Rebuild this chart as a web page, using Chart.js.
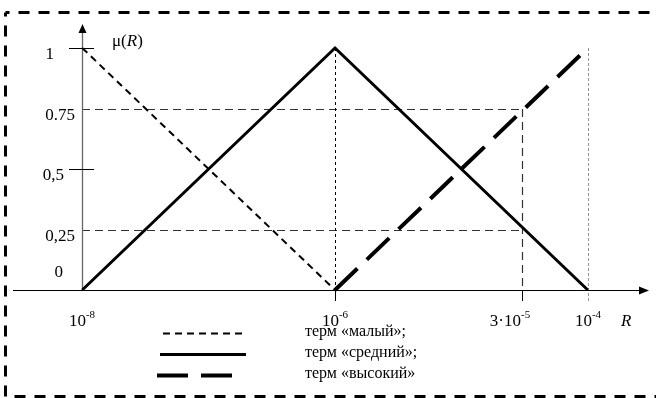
<!DOCTYPE html>
<html>
<head>
<meta charset="utf-8">
<script src="https://cdn.jsdelivr.net/npm/chart.js@4.4.1/dist/chart.umd.min.js"></script>
<style>
  html, body { margin: 0; padding: 0; background: #fff; }
  #wrap { width: 656px; height: 398px; position: relative; }
</style>
</head>
<body>
<div id="wrap"><canvas id="c"></canvas></div>
<script>
// Membership functions of the linguistic variable R (log scale)
const seriesNames = ['терм «малый»;', 'терм «средний»;', 'терм «высокий»'];
const termSmallR = [1e-8, 1e-6];
const termSmallMu = [1, 0];
const termMediumR = [1e-8, 1e-6, 1e-4];
const termMediumMu = [0, 1, 0];
const termHighR = [1e-6, 1e-4];
const termHighMu = [0, 1];

const xTickValues = [1e-8, 1e-6, 3e-5, 1e-4];
const xTickBase = ['10', '10', '3·10', '10'];
const xTickExp = ['-8', '-6', '-5', '-4'];
const yTickValues = [1, 0.75, 0.5, 0.25, 0];
const yTickLabels = ['1', '0.75', '0,5', '0,25', '0'];
// membership levels marked with dashed guides, and the R value they meet at
const guideLevels = [0.75, 0.25];
const guideR = 3e-5;

const toPoints = (xs, ys) => xs.map((x, i) => ({ x, y: ys[i] }));

const SERIF = '"Liberation Serif", "DejaVu Serif", serif';

// line styles for the three terms (shared by plot and legend)
const termStyles = [
  { width: 2, dash: [7, 5] },
  { width: 3, dash: [] },
  { width: 4, dash: [31, 13] }
];

const decor = {
  id: 'decor',
  beforeDatasetsDraw(chart) {
    const ctx = chart.ctx;
    const xs = chart.scales.x, ys = chart.scales.y;
    const X = v => Math.round(xs.getPixelForValue(v));
    const Y = v => Math.round(ys.getPixelForValue(v));
    const x0 = X(xTickValues[0]);
    const y0 = Y(0);
    ctx.save();

    // horizontal guides at 0.75 and 0.25
    ctx.strokeStyle = '#333';
    ctx.lineWidth = 1.2;
    ctx.setLineDash([8, 5]);
    guideLevels.forEach(l => {
      ctx.beginPath();
      ctx.moveTo(x0, Y(l) + 0.5);
      ctx.lineTo(X(guideR), Y(l) + 0.5);
      ctx.stroke();
    });
    // vertical guide at 3·10^-5
    ctx.beginPath();
    ctx.moveTo(X(guideR) + 0.5, Y(guideLevels[0]));
    ctx.lineTo(X(guideR) + 0.5, y0);
    ctx.stroke();

    // vertical at the peak 10^-6
    ctx.strokeStyle = '#000';
    ctx.lineWidth = 1;
    ctx.setLineDash([3, 3]);
    ctx.beginPath();
    ctx.moveTo(X(1e-6) + 0.5, Y(1));
    ctx.lineTo(X(1e-6) + 0.5, y0);
    ctx.stroke();

    // dotted vertical at 10^-4
    ctx.strokeStyle = '#999';
    ctx.setLineDash([3, 2]);
    ctx.beginPath();
    ctx.moveTo(X(1e-4) + 0.5, Y(1));
    ctx.lineTo(X(1e-4) + 0.5, y0 + 11);
    ctx.stroke();

    // tick marks below the R axis
    ctx.setLineDash([]);
    ctx.strokeStyle = '#000';
    [1e-6, guideR].forEach(v => {
      ctx.beginPath();
      ctx.moveTo(X(v) + 0.5, y0);
      ctx.lineTo(X(v) + 0.5, y0 + 11);
      ctx.stroke();
    });

    // μ axis
    ctx.strokeStyle = '#666';
    ctx.lineWidth = 1.3;
    ctx.beginPath();
    ctx.moveTo(x0 + 0.5, y0);
    ctx.lineTo(x0 + 0.5, 30);
    ctx.stroke();
    ctx.fillStyle = '#000';
    ctx.beginPath();
    ctx.moveTo(x0 + 0.5, 24);
    ctx.lineTo(x0 - 3.5, 33);
    ctx.lineTo(x0 + 4.5, 33);
    ctx.closePath();
    ctx.fill();

    // tick marks crossing the μ axis
    ctx.strokeStyle = '#000';
    ctx.lineWidth = 1;
    [1, 0.5].forEach(v => {
      ctx.beginPath();
      ctx.moveTo(x0 - 13, Y(v) + 0.5);
      ctx.lineTo(x0 + 12, Y(v) + 0.5);
      ctx.stroke();
    });

    // R axis with arrow
    ctx.beginPath();
    ctx.moveTo(13, y0 + 0.5);
    ctx.lineTo(641, y0 + 0.5);
    ctx.stroke();
    ctx.beginPath();
    ctx.moveTo(649, y0 + 0.5);
    ctx.lineTo(639, y0 - 3.5);
    ctx.lineTo(639, y0 + 4.5);
    ctx.closePath();
    ctx.fill();

    ctx.restore();
  },
  afterDraw(chart) {
    const ctx = chart.ctx;
    const xs = chart.scales.x, ys = chart.scales.y;
    const X = v => Math.round(xs.getPixelForValue(v));
    const Y = v => Math.round(ys.getPixelForValue(v));
    const x0 = X(xTickValues[0]);
    const y0 = Y(0);
    ctx.save();
    ctx.fillStyle = '#000';
    ctx.textBaseline = 'alphabetic';

    // μ tick labels
    ctx.font = '17px ' + SERIF;
    ctx.textAlign = 'right';
    const yLabelRight = { '1': x0 - 28, '0.75': x0 - 7, '0,5': x0 - 18, '0,25': x0 - 7, '0': x0 - 19 };
    yTickValues.forEach((v, i) => {
      const t = yTickLabels[i];
      const by = v === 0 ? y0 - 13 : Y(v) + 11;
      ctx.fillText(t, yLabelRight[t], by);
    });

    // axis title μ(R)
    ctx.textAlign = 'left';
    let tx = x0 + 30;
    ctx.font = '17px ' + SERIF;
    ctx.fillText('μ(', tx, 46);
    tx += ctx.measureText('μ(').width;
    ctx.font = 'italic 17px ' + SERIF;
    ctx.fillText('R', tx, 46);
    tx += ctx.measureText('R').width;
    ctx.font = '17px ' + SERIF;
    ctx.fillText(')', tx, 46);

    // R tick labels: base with superscript exponent
    const shift = { '3·10': -12 };
    xTickValues.forEach((v, i) => {
      ctx.font = '17px ' + SERIF;
      const wb = ctx.measureText(xTickBase[i]).width;
      ctx.font = '11px ' + SERIF;
      const we = ctx.measureText(xTickExp[i]).width;
      const cx = X(v) + (shift[xTickBase[i]] || 0);
      const left = cx - (wb + we) / 2;
      ctx.textAlign = 'left';
      ctx.font = '17px ' + SERIF;
      ctx.fillText(xTickBase[i], left, 326);
      ctx.font = '11px ' + SERIF;
      ctx.fillText(xTickExp[i], left + wb, 318);
    });
    ctx.font = 'italic 17px ' + SERIF;
    ctx.fillText('R', 621, 326);

    // legend
    const legendRows = [333, 354, 375];
    const legendLines = [[163, 243], [160, 246], [157, 237]];
    ctx.strokeStyle = '#000';
    seriesNames.forEach((name, i) => {
      const st = termStyles[i];
      ctx.lineWidth = st.width;
      ctx.setLineDash(st.dash);
      ctx.beginPath();
      ctx.moveTo(legendLines[i][0], legendRows[i] + 0.5);
      ctx.lineTo(legendLines[i][1], legendRows[i] + 0.5);
      ctx.stroke();
      ctx.setLineDash([]);
      ctx.font = '16px ' + SERIF;
      ctx.fillText(name, 305, legendRows[i] + 3);
    });

    // dashed frame
    ctx.lineWidth = 3;
    ctx.setLineDash([11, 9]);
    ctx.lineDashOffset = 7;
    ctx.beginPath();
    ctx.moveTo(5.5, 12.5);
    ctx.lineTo(660, 12.5);
    ctx.stroke();
    ctx.beginPath();
    ctx.moveTo(5.5, 12.5);
    ctx.lineTo(5.5, 396.5);
    ctx.lineTo(660, 396.5);
    ctx.stroke();
    ctx.restore();
  }
};

const chart = new Chart(document.getElementById('c'), {
  type: 'line',
  data: {
    datasets: [
      { label: seriesNames[0], data: toPoints(termSmallR, termSmallMu),
        borderColor: '#000', borderWidth: termStyles[0].width, borderDash: termStyles[0].dash },
      { label: seriesNames[1], data: toPoints(termMediumR, termMediumMu),
        borderColor: '#000', borderWidth: termStyles[1].width, borderDash: termStyles[1].dash },
      { label: seriesNames[2], data: toPoints(termHighR, termHighMu),
        borderColor: '#000', borderWidth: termStyles[2].width, borderDash: termStyles[2].dash }
    ]
  },
  options: {
    responsive: true,
    maintainAspectRatio: false,
    devicePixelRatio: 1,
    animation: false,
    layout: { padding: 0 },
    elements: { point: { radius: 0, hoverRadius: 0 }, line: { tension: 0, borderCapStyle: 'butt', borderJoinStyle: 'miter', fill: false } },
    plugins: { legend: { display: false }, tooltip: { enabled: false } },
    events: [],
    scales: {
      x: { type: 'logarithmic', display: false, min: Math.pow(10, -8.6508), max: Math.pow(10, -3.4603) },
      y: { type: 'linear', display: false, min: -0.44628, max: 1.19835 }
    }
  },
  plugins: [decor]
});
</script>
</body>
</html>
